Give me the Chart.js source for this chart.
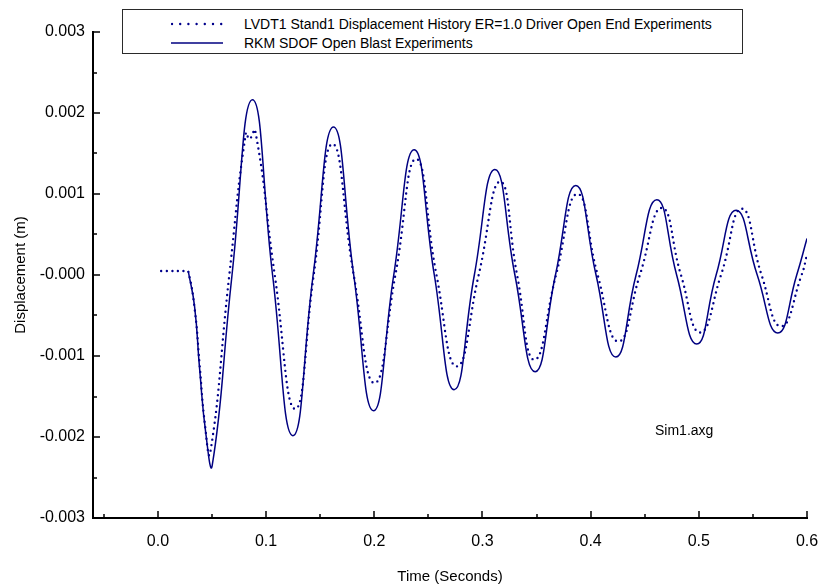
<!DOCTYPE html>
<html>
<head>
<meta charset="utf-8">
<script src="https://cdn.jsdelivr.net/npm/chart.js@4.4.1/dist/chart.umd.min.js"></script>
<style>
  html, body { margin: 0; padding: 0; background: #fff; }
  #wrap { position: relative; width: 822px; height: 588px; font-family: "Liberation Sans", Arial, sans-serif; }
  #legend {
    position: absolute; left: 122px; top: 9px; width: 619px; height: 43px;
    border: 1px solid #2a2a2a; background: #fff; font-size: 14px; color: #000;
  }
  .row { position: absolute; left: 48px; height: 16px; display: flex; align-items: center; }
  .row svg { margin-right: 21px; }
  #note { position: absolute; left: 655px; top: 422px; font-size: 14px; color: #000; }
</style>
</head>
<body>
<div id="wrap">
  <canvas id="chart" width="822" height="588"></canvas>
  <div id="legend">
    <div class="row" style="top:6px">
      <svg width="52" height="6"><line x1="1" y1="3" x2="51" y2="3" stroke="#00008b" stroke-width="2.4" stroke-linecap="round" stroke-dasharray="0 8.2"/></svg>
      <span>LVDT1 Stand1 Displacement History ER=1.0 Driver Open End Experiments</span>
    </div>
    <div class="row" style="top:25px">
      <svg width="52" height="6"><line x1="0" y1="3" x2="52" y2="3" stroke="#000080" stroke-width="1.5"/></svg>
      <span>RKM SDOF Open Blast Experiments</span>
    </div>
  </div>
  <div id="note">Sim1.axg</div>
</div>
<script>
// data ----------------------------------------------------------
// LVDT1 measured history (dotted)
const tLvdt = [0.003, 0.026, 0.028, 0.034, 0.0385, 0.0435, 0.0483, 0.066, 0.0813, 0.0847, 0.0899, 0.108,
  0.1269, 0.144, 0.1614, 0.181, 0.2002, 0.2195, 0.2387, 0.2575, 0.2763, 0.2965,
  0.3164, 0.332, 0.348, 0.368, 0.3878, 0.4065, 0.4257, 0.4455, 0.4658, 0.4835,
  0.5012, 0.5205, 0.5397, 0.558, 0.576, 0.595, 0.6];
const vLvdt = [0.00005, 0.00005, 0.00005, -0.00042, -0.0011, -0.00185, -0.0022, 0, 0.001753, 0.00168, 0.001785, 0,
  -0.001654, 0, 0.001617, 0, -0.001333, 0, 0.001432, 0, -0.001128, 0,
  0.001152, 0, -0.001046, 0, 0.001, 0, -0.00082, 0, 0.000827, 0,
  -0.000709, 0, 0.000819, 0, -0.000634, 0, 0.00025];

// RKM SDOF model (solid)
const tRkm = [0.028, 0.0339, 0.0385, 0.0445, 0.0502, 0.0685, 0.0874, 0.106, 0.1248, 0.1435,
  0.1623, 0.181, 0.1993, 0.218, 0.2369, 0.2555, 0.2738, 0.2925, 0.3115, 0.33,
  0.3487, 0.3675, 0.3863, 0.405, 0.4233, 0.442, 0.4612, 0.4795, 0.4981, 0.516,
  0.5345, 0.554, 0.573, 0.5905, 0.6];
const vRkm = [0.00005, -0.00039, -0.00115, -0.00198, -0.00235, 0, 0.002164, 0, -0.001984, 0,
  0.001827, 0, -0.001675, 0, 0.001547, 0, -0.001416, 0, 0.001304, 0,
  -0.001194, 0, 0.001106, 0, -0.001013, 0, 0.00093, 0, -0.000852, 0,
  0.000798, 0, -0.000716, 0, 0.00045];

// axis ticks
const xTicks = [0.0, 0.1, 0.2, 0.3, 0.4, 0.5, 0.6];
const xTickLabels = ["0.0", "0.1", "0.2", "0.3", "0.4", "0.5", "0.6"];
const xMinor = [-0.05, 0.05, 0.15, 0.25, 0.35, 0.45, 0.55];
const yTicks = [0.003, 0.002, 0.001, 0, -0.001, -0.002, -0.003];
const yTickLabels = ["0.003", "0.002", "0.001", "-0.000", "-0.001", "-0.002", "-0.003"];
const yMinor = [0.0025, 0.0015, 0.0005, -0.0005, -0.0015, -0.0025];

// helpers -------------------------------------------------------
const pts = (ts, vs) => ts.map((t, i) => ({ x: t, y: vs[i] }));
const FONT = "'Liberation Sans', Arial, sans-serif";

// tick marks pointing into the plot
const innerTicks = {
  id: "innerTicks",
  afterDraw(chart) {
    const { ctx, chartArea: a, scales: { x, y } } = chart;
    ctx.save();
    ctx.strokeStyle = "#000";
    ctx.lineWidth = 1.5;
    ctx.beginPath();
    xTicks.forEach(v => { const p = Math.round(x.getPixelForValue(v)); ctx.moveTo(p, a.bottom); ctx.lineTo(p, a.bottom - 7); });
    xMinor.forEach(v => { const p = Math.round(x.getPixelForValue(v)); ctx.moveTo(p, a.bottom); ctx.lineTo(p, a.bottom - 4); });
    yTicks.forEach(v => { const p = Math.round(y.getPixelForValue(v)); ctx.moveTo(a.left, p); ctx.lineTo(a.left + 7, p); });
    yMinor.forEach(v => { const p = Math.round(y.getPixelForValue(v)); ctx.moveTo(a.left, p); ctx.lineTo(a.left + 4, p); });
    ctx.stroke();
    ctx.restore();
  }
};

// ----------------------------------------------------------------
new Chart(document.getElementById("chart"), {
  type: "line",
  data: {
    datasets: [
      {
        label: "LVDT1 Stand1 Displacement History ER=1.0 Driver Open End Experiments",
        data: pts(tLvdt, vLvdt),
        borderColor: "#00008b",
        borderWidth: 2.4,
        borderDash: [0, 5.6],
        borderCapStyle: "round",
        pointRadius: 0,
        tension: 0.5
      },
      {
        label: "RKM SDOF Open Blast Experiments",
        data: pts(tRkm, vRkm),
        borderColor: "#000080",
        borderWidth: 1.5,
        pointRadius: 0,
        tension: 0.5
      }
    ]
  },
  options: {
    responsive: false,
    animation: false,
    layout: { autoPadding: false, padding: { top: 32, right: 15, left: 0, bottom: 0 } },
    plugins: { legend: { display: false }, tooltip: { enabled: false } },
    scales: {
      x: {
        type: "linear",
        min: -0.06, max: 0.6,
        afterFit: s => { s.height = 70; s.paddingLeft = 0; s.paddingRight = 0; },
        afterBuildTicks: s => { s.ticks = xTicks.map(v => ({ value: v })); },
        grid: { display: false, drawTicks: false },
        border: { display: true, color: "#000", width: 2 },
        ticks: {
          color: "#000", padding: 14, maxRotation: 0, autoSkip: false,
          font: { family: FONT, size: 16 },
          callback: (v, i) => xTickLabels[i]
        },
        title: {
          display: true, text: "Time (Seconds)", color: "#000",
          font: { family: FONT, size: 15 }, padding: { top: 0, bottom: 2 }
        }
      },
      y: {
        type: "linear",
        min: -0.003, max: 0.003,
        afterFit: s => { s.width = 93; s.paddingTop = 0; s.paddingBottom = 0; },
        afterBuildTicks: s => { s.ticks = yTicks.map(v => ({ value: v })); },
        grid: { display: false, drawTicks: false },
        border: { display: true, color: "#000", width: 2 },
        ticks: {
          color: "#000", padding: 8, autoSkip: false,
          font: { family: FONT, size: 16 },
          callback: (v, i) => yTickLabels[i]
        },
        title: {
          display: true, text: "Displacement (m)", color: "#000",
          font: { family: FONT, size: 15 }, padding: { top: 12, bottom: 0 }
        }
      }
    }
  },
  plugins: [innerTicks]
});
</script>
</body>
</html>
